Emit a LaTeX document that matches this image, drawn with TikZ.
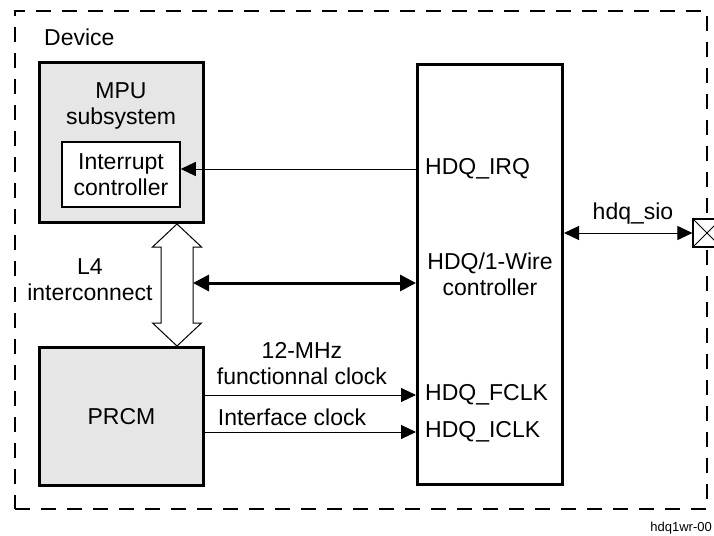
\documentclass[tikz,border=0pt]{standalone}
\usepackage{fontspec}
\setmainfont{Liberation Sans}
\usepackage{tikz}
\usetikzlibrary{arrows.meta, positioning, calc}
\usepackage{xcolor}
\definecolor{cBlock}{RGB}{230,230,230}
\newcommand{\diagfont}{\fontsize{23}{26}\selectfont}
\tikzset{
  basebox/.style={rectangle, draw=black, align=center, inner sep=0pt,
                  font=\diagfont},
  blockbox/.style={basebox, line width=3pt, fill=cBlock},
  ctrlbox/.style={basebox, line width=3pt, fill=white},
  innerbox/.style={basebox, line width=1.5pt, fill=white},
  devicebox/.style={rectangle, draw=black, line width=2.5pt, outer sep=0pt,
                    dash pattern=on 15pt off 11pt},
  padbox/.style={rectangle, draw=black, line width=1.2pt, fill=white,
                 minimum size=28pt, inner sep=0pt,
                 path picture={\draw[line width=0.8pt]
                   (path picture bounding box.north west) -- (path picture bounding box.south east)
                   (path picture bounding box.south west) -- (path picture bounding box.north east);}},
  lbl/.style={font=\diagfont, align=center, inner sep=0pt},
  sigarrow/.style={-{Triangle[length=15pt,width=14pt]}, line width=1pt},
  sigdarrow/.style={{Triangle[length=15pt,width=14pt]}-{Triangle[length=15pt,width=14pt]}, line width=1pt},
  busarrow/.style={{Triangle[length=16pt,width=16pt]}-{Triangle[length=16pt,width=16pt]}, line width=3pt},
  hollowarrow/.style={draw=black, fill=white, line width=1pt, line join=miter}
}

\begin{document}
\begin{tikzpicture}[x=1pt, y=-1pt]
  \useasboundingbox (0,0) rectangle (714,535);

  % device frame and pad
  \node[devicebox, minimum width=692pt, minimum height=498pt] (device) at (361,260) {};
  \node[padbox] (pad) at ($(device.east)+(0,-27)$) {};
  \node[lbl, anchor=west] (devlbl) at (44,37) {Device};

  % blocks
  \node[blockbox, minimum width=164pt, minimum height=160pt] (mpu) at (121.5,142.5) {};
  \node[lbl] (mpulbl) at (121,106) {MPU\\subsystem};
  \node[innerbox, minimum width=118pt, minimum height=65pt] (intc) at (121,174.5) {Interrupt\\controller};
  \node[blockbox, minimum width=164pt, minimum height=138pt] (prcm) at (121.5,416.5) {PRCM};
  \node[ctrlbox, minimum width=145pt, minimum height=420pt] (ctrl) at (490,274.5) {HDQ/1-Wire\\controller};

  % port labels
  \node[lbl, anchor=west] (irq) at (425,169) {HDQ\_IRQ};
  \node[lbl, anchor=west] (fclk) at (425,395) {HDQ\_FCLK};
  \node[lbl, anchor=west] (iclk) at (425,432) {HDQ\_ICLK};

  % signal labels
  \node[lbl] (l4lbl) at (90,280) {L4\\interconnect};
  \node[lbl] (fclklbl) at (302,364) {12-MHz\\functionnal clock};
  \node[lbl] (iclklbl) at (292,417) {Interface clock};
  \node[lbl] (siolbl) at (633,214) {hdq\_sio};
  \node[lbl, anchor=east, font=\fontsize{13}{15}\selectfont] (figid) at (712,528) {hdq1wr-00};

  % L4 interconnect
  \coordinate (l4top) at ($(mpu.south east)+(-28,0)$);
  \coordinate (l4bot) at (l4top |- prcm.north);
  \draw[hollowarrow] (l4top) -- ++(24.5,23) -- ++(-8.5,0) -- ($(l4bot)+(16,-23)$)
    -- ++(8.5,0) -- (l4bot) -- ++(-24.5,-23) -- ++(8.5,0)
    -- ($(l4top)+(-16,23)$) -- ++(-8.5,0) -- cycle;
  \coordinate (busl) at ($(l4top)+(16,0)$);
  \coordinate (busr) at ($(ctrl.west)+(0,8.5)$);
  \draw[busarrow] (busl |- busr) -- (busr);

  % signals
  \draw[sigarrow] (irq.west -| ctrl.west) -- (irq.west -| intc.east);
  \draw[sigarrow] (fclk.west -| prcm.east) -- (fclk.west -| ctrl.west);
  \draw[sigarrow] (iclk.west -| prcm.east) -- (iclk.west -| ctrl.west);
  \draw[sigdarrow] (ctrl.east |- pad.west) -- (pad.west);
\end{tikzpicture}
\end{document}
